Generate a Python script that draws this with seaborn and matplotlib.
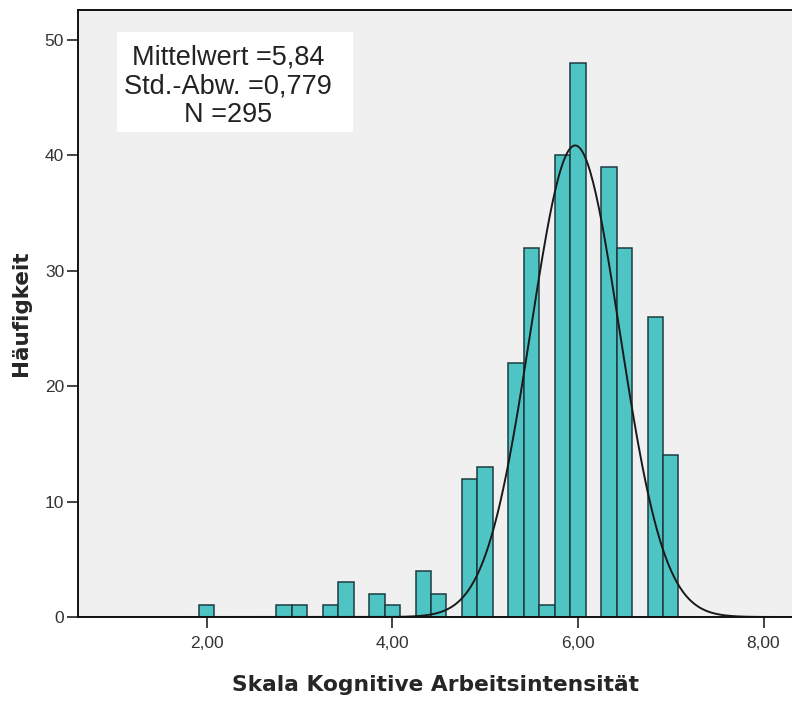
import numpy as np
import pandas as pd
import seaborn as sns
from matplotlib import pyplot as plt
from matplotlib.patches import Rectangle

# scale values (means in steps of 1/6) and how often they occur
values = [2.00, 2.83, 3.00, 3.33, 3.50, 3.83, 4.00, 4.33, 4.50, 4.83,
          5.00, 5.33, 5.50, 5.67, 5.83, 6.00, 6.33, 6.50, 6.83, 7.00]
counts = [1, 1, 1, 1, 3, 2, 1, 4, 2, 12,
          13, 22, 32, 1, 40, 48, 39, 32, 26, 14]

stats_lines = ["Mittelwert =5,84", "Std.-Abw. =0,779", "N =295"]
n_total = 295
bin_width = 1 / 6
# normal curve as drawn in the chart
curve_mean = 5.97
curve_sd = 0.48

x_ticks = [2, 4, 6, 8]
x_ticklabels = ["2,00", "4,00", "6,00", "8,00"]
y_ticks = [0, 10, 20, 30, 40, 50]

df = pd.DataFrame({"Skala": values, "Anzahl": counts})

sns.set_style("ticks")
plt.rcParams["font.family"] = ["DejaVu Sans"]

W, H = 792, 702
fig = plt.figure(figsize=(W / 100, H / 100), dpi=100)
ax = fig.add_axes([78 / W, 1 - 617 / H, 1 - 78 / W, (617 - 10) / H])
ax.set_facecolor("#f0f0f0")

sns.histplot(data=df, x="Skala", weights="Anzahl", binwidth=bin_width,
             binrange=(2 - bin_width / 2, 7 + bin_width / 2),
             color="#4ec4c4", alpha=1, edgecolor="#1d3b40", linewidth=1.1, ax=ax)

# fitted normal curve
xs = np.linspace(0.6, 8.4, 500)
ys = n_total * bin_width * np.exp(-0.5 * ((xs - curve_mean) / curve_sd) ** 2) / (curve_sd * np.sqrt(2 * np.pi))
sns.lineplot(x=xs, y=ys, color="#1a1a1a", linewidth=1.4, ax=ax)

ax.set_xlim(0.613, 8.307)
ax.set_ylim(0, 52.6)
ax.set_xticks(x_ticks)
ax.set_xticklabels(x_ticklabels)
ax.set_yticks(y_ticks)
ax.tick_params(axis="both", length=8, width=1.2, color="#222222", labelcolor="#333333",
               labelsize=12.5, pad=2)
for lab in ax.get_xticklabels() + ax.get_yticklabels():
    lab.set_family("Liberation Sans")
ax.tick_params(axis="x", pad=6)

for side in ["left", "bottom", "top"]:
    ax.spines[side].set_color("#111111")
    ax.spines[side].set_linewidth(1.4)
ax.spines["right"].set_visible(False)

ax.set_xlabel("Skala Kognitive Arbeitsintensität", fontsize=15.7, fontweight="bold", labelpad=17)
ax.set_ylabel("Häufigkeit", fontsize=15.5, fontweight="bold", labelpad=10)

# stats box
ax.add_patch(Rectangle((117 / W, 1 - 132 / H), 236 / W, 100 / H, transform=fig.transFigure,
                       facecolor="white", edgecolor="none", zorder=5))
for i, line in enumerate(stats_lines):
    fig.text(228 / W, 1 - (65 + 28.3 * i) / H, line, ha="center", va="baseline",
             fontsize=19.5, family="Liberation Sans", color="#222222", zorder=6)

fig.savefig("out.png", dpi=100)
